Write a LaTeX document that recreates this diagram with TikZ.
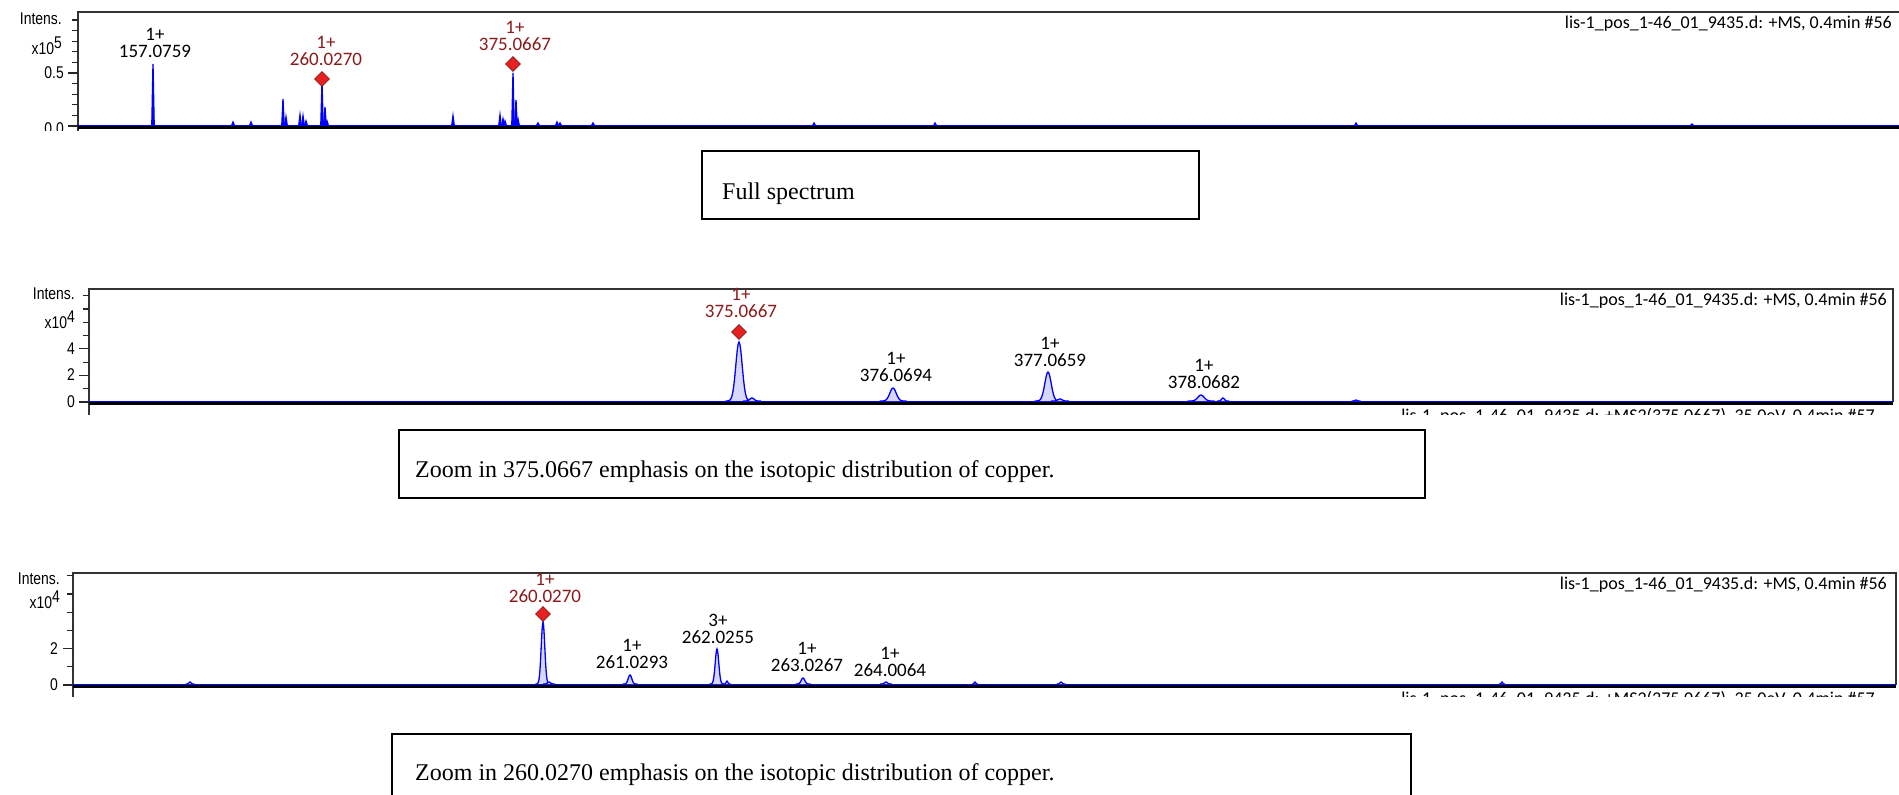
\documentclass[tikz,border=0pt]{standalone}
\usepackage{fontspec}
\setmainfont{Liberation Serif}
\newfontfamily\labelfont{Carlito}
\newfontfamily\axisfont[FakeStretch=0.82]{Liberation Sans}
\usepackage{xcolor}
\usepackage{tikz}
\usetikzlibrary{shapes.geometric}

\definecolor{precred}{RGB}{139,26,26}
\definecolor{markred}{RGB}{232,32,32}
\definecolor{specblue}{RGB}{0,0,255}
\definecolor{peakfill}{RGB}{215,215,250}

\begin{document}
\begin{tikzpicture}[x=1pt, y=-1pt,
  frameline/.style={draw=black!80, line width=1.6pt},
  axisline/.style={black, line width=3pt},
  tickline/.style={black!85, line width=1.2pt},
  spec/.style={specblue, line width=1.3pt},
  peaklabel/.style={font=\labelfont\fontsize{19}{17}\selectfont, align=center, inner sep=0pt},
  preclabel/.style={peaklabel, text=precred},
  marker/.style={diamond, draw=precred, fill=markred, minimum size=15pt, inner sep=0pt, line width=0.8pt},
  filetext/.style={font=\labelfont\fontsize{18}{20}\selectfont, anchor=base east, inner sep=0pt},
  axistext/.style={font=\axisfont\fontsize{17}{17}\selectfont, anchor=east, inner sep=0pt},
  captionbox/.style={draw, line width=1.5pt, anchor=north west, inner sep=0pt},
  captiontext/.style={font=\fontsize{24}{26}\selectfont, anchor=west, inner sep=0pt}]
  \useasboundingbox (0,0) rectangle (1899,795);

  % Panel 1: full spectrum (cut off just under the axis)
  \begin{scope}
    \clip (0,0) rectangle (1899,130);
    \draw[frameline] (1899,12) -- (78,12) -- (78,140);
    \foreach \k in {0,...,10}
      \draw[tickline] (72,{126-10.6*\k}) -- (78,{126-10.6*\k});
    \foreach \k in {0,5}
      \draw[tickline] (68,{126-10.6*\k}) -- (78,{126-10.6*\k});
    \node[axistext] (intensA) at (62,19) {Intens.};
    \node[axistext] (scaleA) at (62,46) {x10\raisebox{6pt}{5}};
    \node[axistext] (tickAhalf) at (64,73) {0.5};
    \node[axistext] (tickAzero) at (64,129) {0.0};
    \draw[axisline] (78,127) -- (1899,127);
    \draw[spec] (78,125.5) -- (1899,125.5);
    % sticks
    \foreach \px/\py in {153/64, 233/122, 251/122, 283/99, 286/117, 300/115, 303/116,
        306/121, 322/82, 325/107, 327/121, 453/116, 500/115, 503/119, 505/121,
        513/73, 516/100, 518/119, 538/123, 557/122, 560/123, 593/123, 814/123,
        935/123, 1356/123, 1692/124}
      \filldraw[spec] ({\px-1.2},125) -- (\px,\py) -- ({\px+1.2},125);
  \end{scope}
  \node[peaklabel] (lblAa) at (155,42.5) {1+\\157.0759};
  \node[preclabel] (lblAb) at (326,51) {1+\\260.0270};
  \node[preclabel] (lblAc) at (515,36) {1+\\375.0667};
  \node[marker] (mkAb) at (322,79) {};
  \node[marker] (mkAc) at (513,64) {};
  \node[filetext] (fileA) at (1892,28) {lis-1\_pos\_1-46\_01\_9435.d: +MS, 0.4min \#56};

  \node[captionbox, minimum width=497pt, minimum height=68pt] (boxFull) at (701,150) {};
  \node[captiontext] (capFull) at (722,194) {Full spectrum};

  % Panel 2: zoom on 375.0667
  \begin{scope}
    \clip (0,285) rectangle (1899,414);
    \draw[frameline] (89,420) -- (89,289) -- (1893,289) -- (1893,402);
    \foreach \k in {0,...,8}
      \draw[tickline] (83,{402-13.3*\k}) -- (89,{402-13.3*\k});
    \foreach \k in {0,2,4}
      \draw[tickline] (79,{402-13.3*\k}) -- (89,{402-13.3*\k});
    \node[axistext] (intensB) at (75,294) {Intens.};
    \node[axistext] (scaleB) at (75,320) {x10\raisebox{6pt}{4}};
    \node[axistext] (tickBfour) at (75,349) {4};
    \node[axistext] (tickBtwo) at (75,375) {2};
    \node[axistext] (tickBzero) at (75,402) {0};
    \draw[axisline] (89,403) -- (1893,403);
    \draw[spec] (89,401.5) -- (1893,401.5);
    \foreach \px/\py/\pw in {739/342/4.5, 752/398/3, 893/388/4.5, 1048/372/4.5,
        1060/399/3, 1201/395/4.5, 1223/398/2, 1356/400/1.5}
      \filldraw[spec, fill=peakfill] plot[domain=-3:3, samples=31, variable=\t]
        ({\px+\pw*\t}, {401-(401-\py)*exp(-\t*\t)});
    \node[filetext] (fileBms2) at (1875,421)
      {lis-1\_pos\_1-46\_01\_9435.d: +MS2(375.0667), 35.0eV, 0.4min \#57};
  \end{scope}
  \node[preclabel] (lblBa) at (741,303) {1+\\375.0667};
  \node[marker] (mkBa) at (739,332) {};
  \node[peaklabel] (lblBb) at (896,367) {1+\\376.0694};
  \node[peaklabel] (lblBc) at (1050,351.5) {1+\\377.0659};
  \node[peaklabel] (lblBd) at (1204,374) {1+\\378.0682};
  \node[filetext] (fileB) at (1887,305) {lis-1\_pos\_1-46\_01\_9435.d: +MS, 0.4min \#56};

  \node[captionbox, minimum width=1026pt, minimum height=68pt] (boxZoomB) at (398,429) {};
  \node[captiontext] (capZoomB) at (415,472) {Zoom in 375.0667 emphasis on the isotopic distribution of copper.};

  % Panel 3: zoom on 260.0270
  \begin{scope}
    \clip (0,569) rectangle (1899,696);
    \draw[frameline] (73,700) -- (73,573) -- (1896,573) -- (1896,685);
    \foreach \k in {0,...,6}
      \draw[tickline] (67,{685-18.2*\k}) -- (73,{685-18.2*\k});
    \foreach \k in {0,2}
      \draw[tickline] (63,{685-18.2*\k}) -- (73,{685-18.2*\k});
    \node[axistext] (intensC) at (60,579) {Intens.};
    \node[axistext] (scaleC) at (60,600) {x10\raisebox{6pt}{4}};
    \node[axistext] (tickCtwo) at (58,649) {2};
    \node[axistext] (tickCzero) at (58,685) {0};
    \draw[axisline] (73,686) -- (1896,686);
    \draw[spec] (73,684.5) -- (1896,684.5);
    \foreach \px/\py/\pw in {190/682/1.5, 543/622/2.5, 549/682/2, 630/675/2.5,
        717/649/2.5, 727/681/1.2, 803/678/2.5, 886/682/2, 975/682/1, 1061/682/1.5, 1502/682/1}
      \filldraw[spec, fill=peakfill] plot[domain=-3:3, samples=31, variable=\t]
        ({\px+\pw*\t}, {684-(684-\py)*exp(-\t*\t)});
    \node[filetext] (fileCms2) at (1875,704)
      {lis-1\_pos\_1-46\_01\_9435.d: +MS2(375.0667), 35.0eV, 0.4min \#57};
  \end{scope}
  \node[preclabel] (lblCa) at (545,587.5) {1+\\260.0270};
  \node[marker] (mkCa) at (543,614) {};
  \node[peaklabel] (lblCb) at (632,654) {1+\\261.0293};
  \node[peaklabel] (lblCc) at (718,629) {3+\\262.0255};
  \node[peaklabel] (lblCd) at (807,657) {1+\\263.0267};
  \node[peaklabel] (lblCe) at (890,661.5) {1+\\264.0064};
  \node[filetext] (fileC) at (1887,589) {lis-1\_pos\_1-46\_01\_9435.d: +MS, 0.4min \#56};

  \node[captionbox, minimum width=1019pt, minimum height=75pt] (boxZoomC) at (391,733) {};
  \node[captiontext] (capZoomC) at (415,775) {Zoom in 260.0270 emphasis on the isotopic distribution of copper.};
\end{tikzpicture}
\end{document}
